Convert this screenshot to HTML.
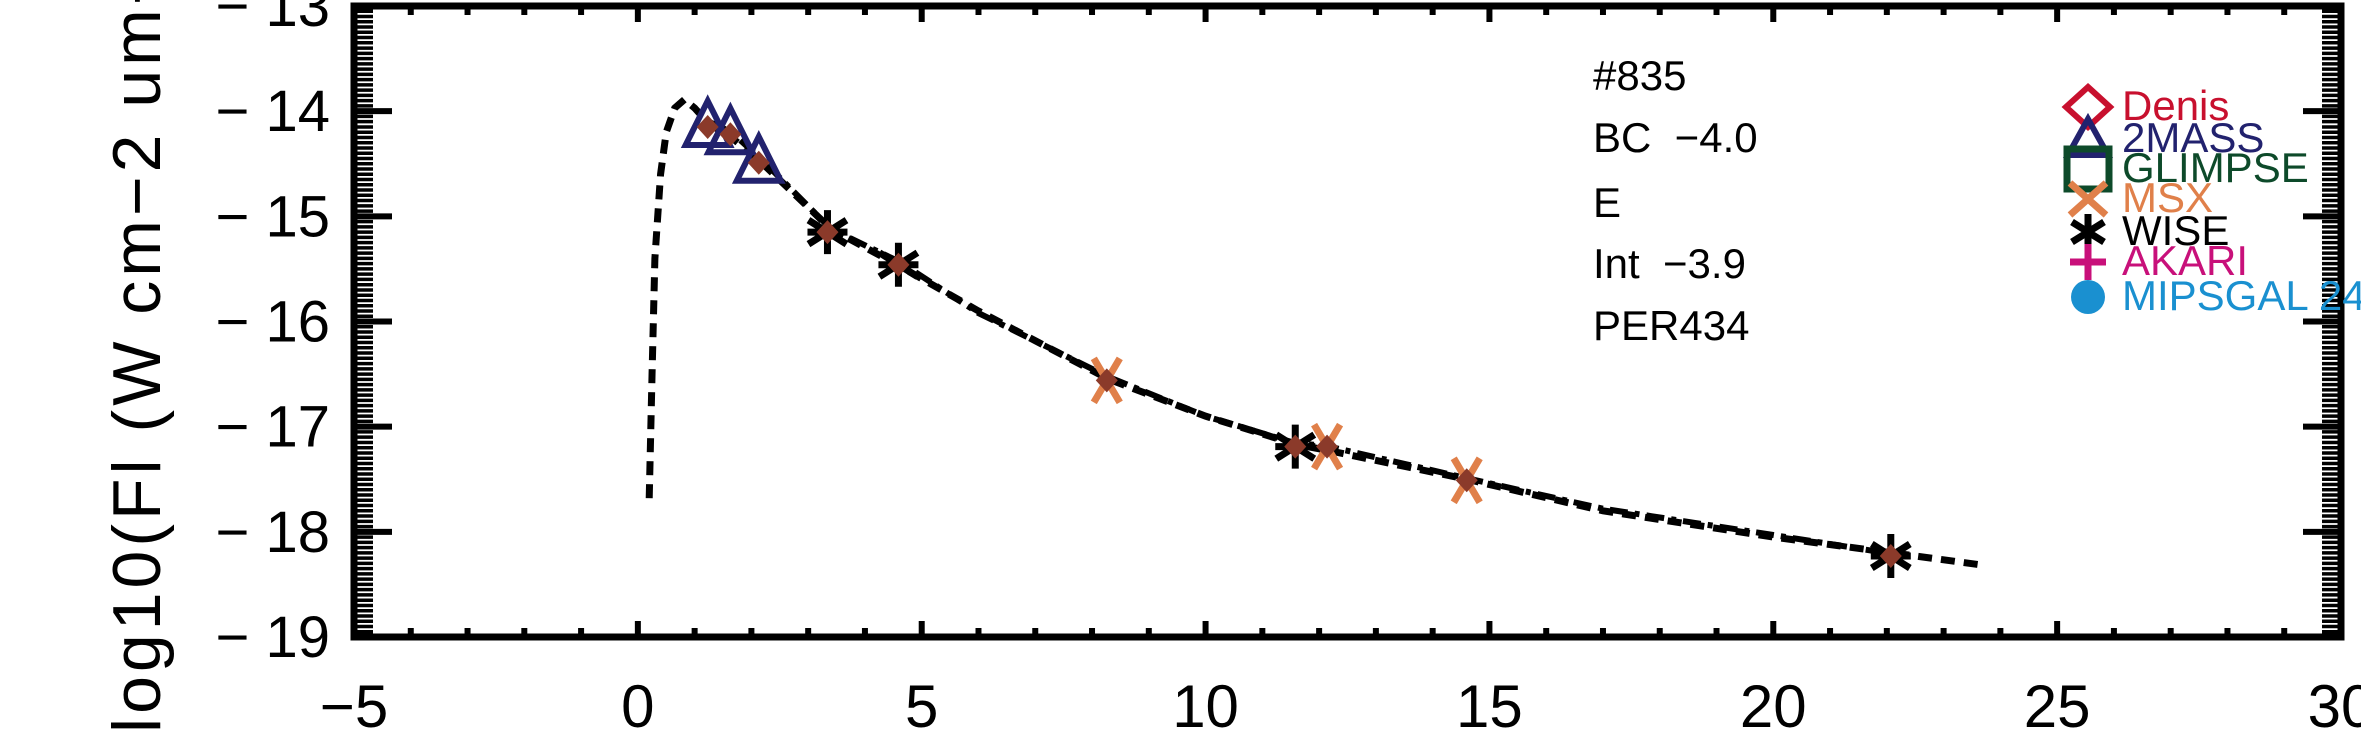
<!DOCTYPE html>
<html><head><meta charset="utf-8"><style>
html,body{margin:0;padding:0;background:#fff;}
svg{display:block;font-family:"Liberation Sans",sans-serif;}
</style></head><body>
<svg id="chart" width="2361" height="750" viewBox="0 0 2361 750" xmlns="http://www.w3.org/2000/svg">
<g id="axes"></g>
<g id="curves"></g>
<g id="marks"></g>
<g id="annot" font-size="42">
 <text x="1593" y="90">#835</text>
 <text x="1593" y="152" xml:space="preserve">BC  −4.0</text>
 <text x="1593" y="217">E</text>
 <text x="1593" y="278" xml:space="preserve">Int  −3.9</text>
 <text x="1593" y="340">PER434</text>
</g>
<g id="legend"></g>
<text transform="translate(160,733) rotate(-90)" font-size="68" letter-spacing="4" xml:space="preserve">log10(Fl (W cm−2 um−1))</text>
</svg>
<script>
const xTicks=[-5,0,5,10,15,20,25,30];
const yTicks=[-13,-14,-15,-16,-17,-18,-19];
const modelX=[0.2,0.25,0.3,0.4,0.5,0.65,0.82,1.0,1.25,1.65,2.2,3.4,4.6,6,8.3,10,11.6,12.1,14.6,17,20,22.1,23.6];
const modelY=[-17.68,-16.5,-15.4,-14.6,-14.2,-13.97,-13.89,-13.97,-14.12,-14.25,-14.5,-15.12,-15.47,-15.9,-16.55,-16.9,-17.17,-17.22,-17.5,-17.8,-18.05,-18.2,-18.31];
const fitX=[1.25,1.65,2.2,3.4,4.6,6,8.3,10,11.6,12.1,14.6,17,20,22.1];
const fitY=[-14.1,-14.2,-14.47,-15.12,-15.43,-15.92,-16.53,-16.9,-17.16,-17.18,-17.49,-17.78,-18.03,-18.21];
const massX=[1.23,1.63,2.13];
const massY=[-14.15,-14.22,-14.49];
const wiseX=[3.34,4.59,11.58,22.07];
const wiseY=[-15.15,-15.46,-17.19,-18.23];
const msxX=[8.26,12.14,14.6];
const msxY=[-16.56,-17.19,-17.51];
const obsX=[1.23,1.63,2.13,3.34,4.59,8.26,11.58,12.14,14.6,22.07];
const obsY=[-14.15,-14.22,-14.49,-15.15,-15.46,-16.56,-17.19,-17.19,-17.51,-18.23];
const legendNames=["Denis","2MASS","GLIMPSE","MSX","WISE","AKARI","MIPSGAL  24"];
const legendColors=["#c8102e","#22226e","#0d4a2a","#e0804a","#000000","#c8107a","#1a90d0"];

const NS="http://www.w3.org/2000/svg";
const L=354,R=2341,T=6,B=637;
const sx=v=>L+(v+5)*(R-L)/35;
const sy=v=>T+(-13-v)*(B-T)/6;
function mk(tag,attrs,parent){const e=document.createElementNS(NS,tag);for(const k in attrs)e.setAttribute(k,attrs[k]);parent.appendChild(e);return e;}
const axes=document.getElementById('axes');
let fr=mk('rect',{x:L,y:T,width:R-L,height:B-T,fill:'none',stroke:'#000','stroke-width':7},axes);


for(let v=-5;v<=30;v++){
 const major=(v%5===0);const len=major?16:9;
 const x=sx(v);
 mk('line',{x1:x,x2:x,y1:B,y2:B-len,stroke:'#000','stroke-width':6},axes);
 mk('line',{x1:x,x2:x,y1:T,y2:T+len,stroke:'#000','stroke-width':6},axes);
}
xTicks.forEach(v=>{
 const t=mk('text',{x:sx(v),y:727,'font-size':60,'text-anchor':'middle'},axes);
 t.textContent=(v<0?'−':'')+Math.abs(v);
 
 
});
for(let i=0;i<=120;i++){
 const v=-19+i*0.05;const y=sy(v);
 const major=(i%20===0);const len=major?38:19;
 mk('line',{x1:L,x2:L+len,y1:y,y2:y,stroke:'#000','stroke-width':major?6:3.5},axes);
 mk('line',{x1:R,x2:R-len,y1:y,y2:y,stroke:'#000','stroke-width':major?6:3.5},axes);
}
yTicks.forEach(v=>{
 const t=mk('text',{x:330,y:sy(v)+20,'font-size':58,'text-anchor':'end','xml:space':'preserve'},axes);
 t.textContent='− '+Math.abs(v);
 
 
});
const curves=document.getElementById('curves');
const p1=mk('polyline',{points:modelX.map((x,i)=>sx(x)+','+sy(modelY[i])).join(' '),fill:'none',stroke:'#000','stroke-width':7,'stroke-dasharray':'14,9'},curves);


const p2=mk('polyline',{points:fitX.map((x,i)=>sx(x)+','+sy(fitY[i])).join(' '),fill:'none',stroke:'#000','stroke-width':6,'stroke-dasharray':'18,7,5,7'},curves);


const marks=document.getElementById('marks');
massX.forEach((x,i)=>{const cx=sx(x),cy=sy(massY[i]);
 const t=mk('polygon',{points:`${cx},${cy-26} ${cx-22},${cy+18} ${cx+22},${cy+18}`,fill:'none',stroke:'#22226e','stroke-width':6},marks);
 
 });
msxX.forEach((x,i)=>{const cx=sx(x),cy=sy(msxY[i]);
 const g=mk('path',{d:`M${cx-13},${cy-22}L${cx+13},${cy+22}M${cx+13},${cy-22}L${cx-13},${cy+22}`,stroke:'#e0804a','stroke-width':7},marks);
 
 });
wiseX.forEach((x,i)=>{const cx=sx(x),cy=sy(wiseY[i]);
 const g=mk('path',{d:`M${cx},${cy-22}L${cx},${cy+22}M${cx-19},${cy-12}L${cx+19},${cy+12}M${cx-19},${cy+12}L${cx+19},${cy-12}M${cx-20},${cy}L${cx+20},${cy}`,stroke:'#000','stroke-width':7},marks);
 
 });
obsX.forEach((x,i)=>{const cx=sx(x),cy=sy(obsY[i]);
 const d=mk('polygon',{points:`${cx},${cy-12} ${cx+11},${cy} ${cx},${cy+12} ${cx-11},${cy}`,fill:'#8b3a2a'},marks);
 
 });
const lg=document.getElementById('legend');
const baselines=[120,152,182,212,245,275,310];
legendNames.forEach((n,i)=>{
 const c=legendColors[i];const by=baselines[i];const cy=by-13;const cx=2088;
 let s;
 if(i===0)s=mk('polygon',{points:`${cx},${cy-20} ${cx+22},${cy} ${cx},${cy+20} ${cx-22},${cy}`,fill:'none',stroke:c,'stroke-width':6},lg);
 else if(i===1)s=mk('polygon',{points:`${cx},${cy-20} ${cx-20},${cy+16} ${cx+20},${cy+16}`,fill:'none',stroke:c,'stroke-width':6},lg);
 else if(i===2)s=mk('rect',{x:cx-21,y:cy-20,width:42,height:40,fill:'none',stroke:c,'stroke-width':7},lg);
 else if(i===3)s=mk('path',{d:`M${cx-18},${cy-16}L${cx+18},${cy+16}M${cx+18},${cy-16}L${cx-18},${cy+16}`,stroke:c,'stroke-width':7},lg);
 else if(i===4)s=mk('path',{d:`M${cx},${cy-18}L${cx},${cy+18}M${cx-16},${cy-10}L${cx+16},${cy+10}M${cx-16},${cy+10}L${cx+16},${cy-10}`,stroke:c,'stroke-width':7},lg);
 else if(i===5)s=mk('path',{d:`M${cx},${cy-18}L${cx},${cy+18}M${cx-18},${cy}L${cx+18},${cy}`,stroke:c,'stroke-width':7},lg);
 else s=mk('circle',{cx:cx,cy:cy,r:17,fill:c},lg);
 
 
 const t=mk('text',{x:2122,y:by,'font-size':42,fill:c,'xml:space':'preserve'},lg);
 t.textContent=n;
 
 
});
</script>
</body></html>
